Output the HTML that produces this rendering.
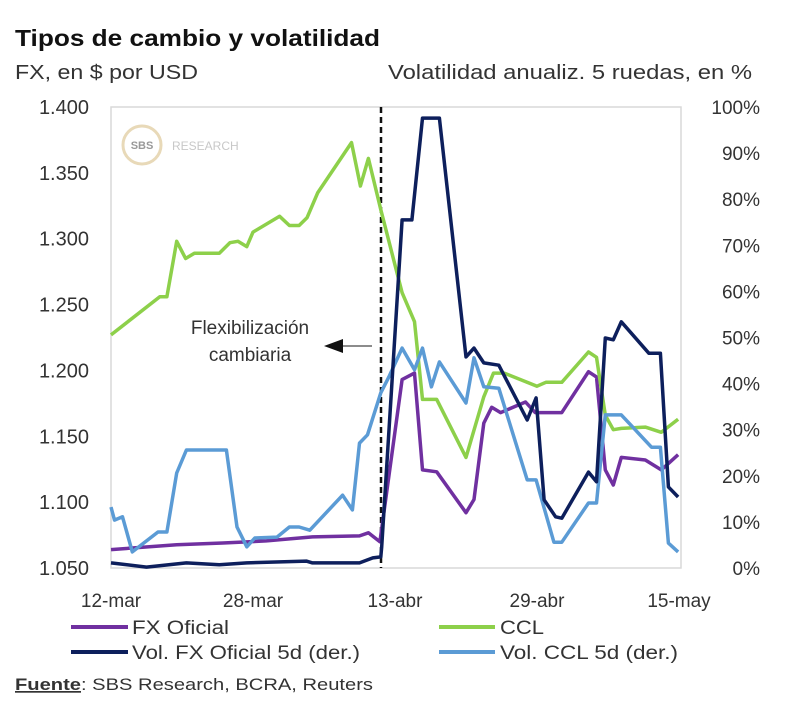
<!DOCTYPE html>
<html><head><meta charset="utf-8"><style>
html,body{margin:0;padding:0;background:#fff;}
svg{display:block;font-family:"Liberation Sans",sans-serif;}
</style></head><body>
<svg id="chart" width="800" height="722" viewBox="0 0 800 722">
<text x="15" y="46" font-size="23" font-weight="bold" fill="#111" textLength="365" lengthAdjust="spacingAndGlyphs">Tipos de cambio y volatilidad</text>
<text x="15" y="79" font-size="20" fill="#333" textLength="183" lengthAdjust="spacingAndGlyphs">FX, en $ por USD</text>
<text x="388" y="79" font-size="20" fill="#333" textLength="364" lengthAdjust="spacingAndGlyphs">Volatilidad anualiz. 5 ruedas, en %</text>
<rect x="111" y="107" width="570" height="461" fill="none" stroke="#d9d9d9" stroke-width="1.5"/>
<g>
<circle cx="142" cy="145" r="19" fill="none" stroke="#e8d9b8" stroke-width="3"/>
<text x="142" y="149" font-size="11" font-weight="bold" fill="#999" text-anchor="middle">SBS</text>
<text x="172" y="150" font-size="12" fill="#c8c8c8">RESEARCH</text>
</g>
<g id="leftTicks"></g><g id="rightTicks"></g><g id="xTicks"></g>
<line x1="381" y1="107" x2="381" y2="568" stroke="#111" stroke-width="2.5" stroke-dasharray="6,4"/>
<g id="series"></g>
<g>
<text x="250" y="334" font-size="19" fill="#333" text-anchor="middle">Flexibilización</text>
<text x="250" y="361" font-size="19" fill="#333" text-anchor="middle">cambiaria</text>
<line x1="372" y1="346" x2="340" y2="346" stroke="#666" stroke-width="1.5"/>
<polygon points="324,346 343,339 343,353" fill="#111"/>
</g>
<g>
<line x1="71" y1="627" x2="128" y2="627" stroke="#7030a0" stroke-width="4"/>
<text x="132" y="634" font-size="19" fill="#333" textLength="97" lengthAdjust="spacingAndGlyphs">FX Oficial</text>
<line x1="439" y1="627" x2="495" y2="627" stroke="#8dd04a" stroke-width="4"/>
<text x="500" y="634" font-size="19" fill="#333" textLength="44" lengthAdjust="spacingAndGlyphs">CCL</text>
<line x1="71" y1="652" x2="128" y2="652" stroke="#0d1f5c" stroke-width="4"/>
<text x="132" y="659" font-size="19" fill="#333" textLength="228" lengthAdjust="spacingAndGlyphs">Vol. FX Oficial 5d (der.)</text>
<line x1="439" y1="652" x2="495" y2="652" stroke="#5b9bd5" stroke-width="4"/>
<text x="500" y="659" font-size="19" fill="#333" textLength="178" lengthAdjust="spacingAndGlyphs">Vol. CCL 5d (der.)</text>
</g>
<text x="15" y="690" font-size="17" fill="#333" textLength="358" lengthAdjust="spacingAndGlyphs"><tspan font-weight="bold" text-decoration="underline">Fuente</tspan>: SBS Research, BCRA, Reuters</text>
</svg>
<script>
const leftTickVals=[1.05,1.10,1.15,1.20,1.25,1.30,1.35,1.40];
const leftTickLabels=["1.050","1.100","1.150","1.200","1.250","1.300","1.350","1.400"];
const rightTickVals=[0,10,20,30,40,50,60,70,80,90,100];
const xTickDays=[0,16,32,48,64];
const xTickLabels=["12-mar","28-mar","13-abr","29-abr","15-may"];
const fxDays=[0,7.4,12.6,17.5,22.7,28,29,30.3,32.8,34.2,35.1,36.7,40,40.9,42,42.9,43.9,46.7,47.8,50.8,53.8,54.7,55.7,56.6,57.5,60.2,62,63.9];
const fxVals=[1.064,1.0676,1.069,1.0706,1.0736,1.0744,1.0767,1.070,1.193,1.198,1.1245,1.123,1.092,1.102,1.160,1.172,1.168,1.176,1.168,1.168,1.199,1.195,1.1245,1.113,1.134,1.132,1.1245,1.136];
const cclDays=[0,5.5,6.3,7.4,8.4,9.4,12.2,13.4,14.3,15.3,16,19,20.1,21.2,22.1,23.3,27.1,28.1,29,30.4,32.8,34.2,35.1,36.7,40,42,43.1,44.3,48,49,50.8,53.8,54.7,55.7,56.6,57.5,60.2,62,63.9];
const cclVals=[1.227,1.256,1.256,1.298,1.285,1.289,1.289,1.297,1.298,1.294,1.305,1.317,1.310,1.310,1.316,1.335,1.373,1.340,1.361,1.322,1.259,1.237,1.178,1.178,1.134,1.180,1.198,1.198,1.188,1.191,1.191,1.214,1.210,1.166,1.155,1.156,1.157,1.153,1.163];
const volFxDays=[0,4,8.5,12.2,15.3,22,22.7,28,29.5,30.4,30.5,32.8,33.9,35.1,37,40,40.9,42,43.7,46.9,47.9,48.8,50.1,50.8,53.8,54.7,55.7,56.6,57.5,60.6,61.9,62.8,63.9];
const volFxVals=[1.1,0.2,1.1,0.7,1.1,1.5,1.1,1.1,2.2,2.4,4.6,75.5,75.5,97.6,97.6,45.8,47.7,44.5,44,32.1,36.9,14.8,11.1,10.8,20.8,18.7,49.9,49.5,53.4,46.6,46.6,17.6,15.4];
const volCclDays=[0,0.4,1.3,2.4,5.3,6.3,7.4,8.5,13,14.2,15.3,16.2,18.7,20.1,21.2,22.4,26.1,27.2,28,28.9,30.4,31.3,32.8,34.2,35.1,36.1,37,40,40.9,42,43.7,46.9,47.9,49.9,50.8,53.8,54.7,55.7,57.5,60.9,61.9,62.8,63.9];
const volCclVals=[13.2,10.4,11.1,3.5,7.8,7.8,20.6,25.6,25.6,8.9,4.6,6.5,6.7,8.9,8.9,8.2,15.8,12.6,27.1,28.9,38,41.4,47.7,43,47.7,39.3,44.7,35.8,45.6,39.3,39,19.1,19.1,5.6,5.6,14.1,14.1,33.2,33.2,26.2,26.2,5.4,3.5];

const NS="http://www.w3.org/2000/svg";
const X0=111,X1=679,Y0=568,Y1=107;
function xS(d){return X0+(d/64)*(X1-X0);}
function yL(v){return Y0-(v-1.05)/(0.35)*(Y0-Y1);}
function yR(p){return Y0-(p/100)*(Y0-Y1);}
function mk(tag,attrs,parent){const e=document.createElementNS(NS,tag);for(const k in attrs)e.setAttribute(k,attrs[k]);parent.appendChild(e);return e;}

const lt=document.getElementById('leftTicks');
leftTickVals.forEach((v,i)=>{
  const t=mk('text',{x:89,y:yL(v)+7,'font-size':20,fill:'#333','text-anchor':'end'},lt);
  
  
  t.textContent=leftTickLabels[i];
});
const rt=document.getElementById('rightTicks');
rightTickVals.forEach(v=>{
  const t=mk('text',{x:760,y:yR(v)+7,'font-size':19,fill:'#333','text-anchor':'end'},rt);
  
  
  t.textContent=v+'%';
});
const xt=document.getElementById('xTicks');
xTickDays.forEach((d,i)=>{
  const t=mk('text',{x:xS(d),y:607,'font-size':19,fill:'#333','text-anchor':'middle'},xt);
  
  
  t.textContent=xTickLabels[i];
});
const sg=document.getElementById('series');
function line(days,vals,yf,color,name){
  const pts=days.map((d,i)=>xS(d).toFixed(1)+','+yf(vals[i]).toFixed(1)).join(' ');
  const p=mk('polyline',{points:pts,fill:'none',stroke:color,'stroke-width':3.5,'stroke-linejoin':'round'},sg);
  
  
}
line(fxDays,fxVals,yL,'#7030a0','fx-oficial-line');
line(cclDays,cclVals,yL,'#8dd04a','ccl-line');
line(volCclDays,volCclVals,yR,'#5b9bd5','vol-ccl-line');
line(volFxDays,volFxVals,yR,'#0d1f5c','vol-fx-oficial-line');
</script>
</body></html>
